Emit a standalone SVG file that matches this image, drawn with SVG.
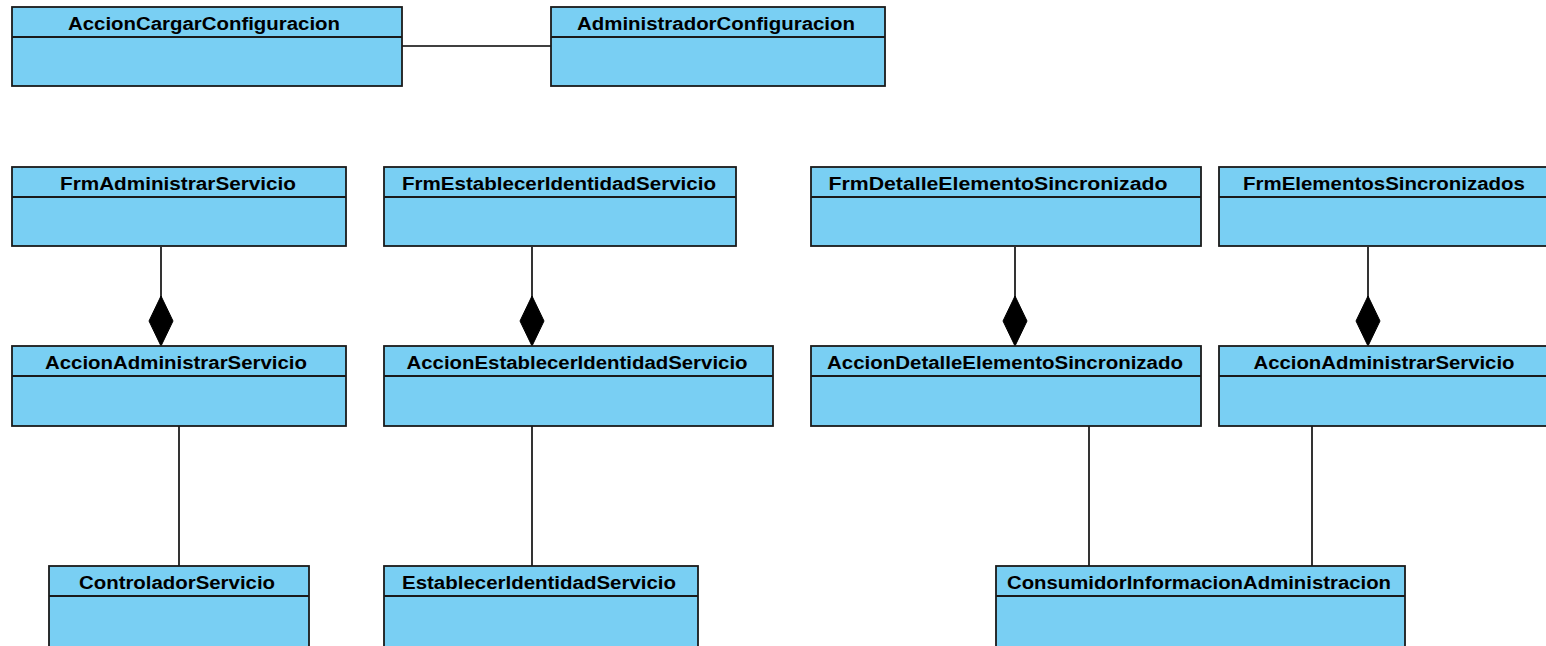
<svg xmlns="http://www.w3.org/2000/svg" width="1546" height="646" viewBox="0 0 1546 646">
  <style>
    .box { fill: #79cff3; stroke: #1a1a1a; stroke-width: 1.8; }
    .div { stroke: #1a1a1a; stroke-width: 1.8; }
    .name { font-family: "Liberation Sans", Arial, sans-serif; font-weight: bold; font-size: 18px; fill: #000; text-anchor: middle; }
    .link { stroke: #000; stroke-width: 1.6; fill: none; }
    .comp { fill: #000; stroke: #000; stroke-width: 1; }
  </style>
  <defs>
    <!-- filled diamond for composition ends, tip at origin pointing down -->
    <path id="diamond" d="M0,0 L-12,-25 L0,-50 L12,-25 Z"/>
  </defs>
  <rect width="1546" height="646" fill="#ffffff"/>

  <!-- connectors -->
  <g id="connectors">
    <line class="link" x1="402" y1="46" x2="551" y2="46"/>
    <line class="link" x1="161" y1="247" x2="161" y2="300"/>
    <use href="#diamond" class="comp" x="161" y="346"/>
    <line class="link" x1="532" y1="247" x2="532" y2="300"/>
    <use href="#diamond" class="comp" x="532" y="346"/>
    <line class="link" x1="1015" y1="247" x2="1015" y2="300"/>
    <use href="#diamond" class="comp" x="1015" y="346"/>
    <line class="link" x1="1368" y1="247" x2="1368" y2="300"/>
    <use href="#diamond" class="comp" x="1368" y="346"/>
    <line class="link" x1="179" y1="426" x2="179" y2="566"/>
    <line class="link" x1="532" y1="426" x2="532" y2="566"/>
    <line class="link" x1="1089" y1="426" x2="1089" y2="566"/>
    <line class="link" x1="1312" y1="426" x2="1312" y2="566"/>
  </g>

  <!-- top row -->
  <g id="AccionCargarConfiguracion">
    <rect class="box" x="12" y="7" width="390" height="79"/>
    <line class="div" x1="12" y1="37" x2="402" y2="37"/>
    <text class="name" x="204" y="30" textLength="272" lengthAdjust="spacingAndGlyphs">AccionCargarConfiguracion</text>
  </g>
  <g id="AdministradorConfiguracion">
    <rect class="box" x="551" y="7" width="334" height="79"/>
    <line class="div" x1="551" y1="37" x2="885" y2="37"/>
    <text class="name" x="716" y="30" textLength="278" lengthAdjust="spacingAndGlyphs">AdministradorConfiguracion</text>
  </g>

  <!-- forms -->
  <g id="FrmAdministrarServicio">
    <rect class="box" x="12" y="167" width="334" height="79"/>
    <line class="div" x1="12" y1="197" x2="346" y2="197"/>
    <text class="name" x="178" y="190" textLength="236" lengthAdjust="spacingAndGlyphs">FrmAdministrarServicio</text>
  </g>
  <g id="FrmEstablecerIdentidadServicio">
    <rect class="box" x="384" y="167" width="352" height="79"/>
    <line class="div" x1="384" y1="197" x2="736" y2="197"/>
    <text class="name" x="559" y="190" textLength="314" lengthAdjust="spacingAndGlyphs">FrmEstablecerIdentidadServicio</text>
  </g>
  <g id="FrmDetalleElementoSincronizado">
    <rect class="box" x="811" y="167" width="390" height="79"/>
    <line class="div" x1="811" y1="197" x2="1201" y2="197"/>
    <text class="name" x="998" y="190" textLength="339" lengthAdjust="spacingAndGlyphs">FrmDetalleElementoSincronizado</text>
  </g>
  <g id="FrmElementosSincronizados">
    <rect class="box" x="1219" y="167" width="332" height="79"/>
    <line class="div" x1="1219" y1="197" x2="1551" y2="197"/>
    <text class="name" x="1384" y="190" textLength="282" lengthAdjust="spacingAndGlyphs">FrmElementosSincronizados</text>
  </g>

  <!-- actions -->
  <g id="AccionAdministrarServicio">
    <rect class="box" x="12" y="346" width="334" height="80"/>
    <line class="div" x1="12" y1="376" x2="346" y2="376"/>
    <text class="name" x="176" y="369" textLength="262" lengthAdjust="spacingAndGlyphs">AccionAdministrarServicio</text>
  </g>
  <g id="AccionEstablecerIdentidadServicio">
    <rect class="box" x="384" y="346" width="389" height="80"/>
    <line class="div" x1="384" y1="376" x2="773" y2="376"/>
    <text class="name" x="577" y="369" textLength="341" lengthAdjust="spacingAndGlyphs">AccionEstablecerIdentidadServicio</text>
  </g>
  <g id="AccionDetalleElementoSincronizado">
    <rect class="box" x="811" y="346" width="390" height="80"/>
    <line class="div" x1="811" y1="376" x2="1201" y2="376"/>
    <text class="name" x="1005" y="369" textLength="356" lengthAdjust="spacingAndGlyphs">AccionDetalleElementoSincronizado</text>
  </g>
  <g id="AccionAdministrarServicio2">
    <rect class="box" x="1219" y="346" width="332" height="80"/>
    <line class="div" x1="1219" y1="376" x2="1551" y2="376"/>
    <text class="name" x="1384" y="369" textLength="261" lengthAdjust="spacingAndGlyphs">AccionAdministrarServicio</text>
  </g>

  <!-- controllers / services -->
  <g id="ControladorServicio">
    <rect class="box" x="49" y="566" width="260" height="90"/>
    <line class="div" x1="49" y1="596" x2="309" y2="596"/>
    <text class="name" x="177" y="589" textLength="196" lengthAdjust="spacingAndGlyphs">ControladorServicio</text>
  </g>
  <g id="EstablecerIdentidadServicio">
    <rect class="box" x="384" y="566" width="314" height="90"/>
    <line class="div" x1="384" y1="596" x2="698" y2="596"/>
    <text class="name" x="539" y="589" textLength="274" lengthAdjust="spacingAndGlyphs">EstablecerIdentidadServicio</text>
  </g>
  <g id="ConsumidorInformacionAdministracion">
    <rect class="box" x="996" y="566" width="409" height="90"/>
    <line class="div" x1="996" y1="596" x2="1405" y2="596"/>
    <text class="name" x="1199" y="589" textLength="384" lengthAdjust="spacingAndGlyphs">ConsumidorInformacionAdministracion</text>
  </g>
</svg>
